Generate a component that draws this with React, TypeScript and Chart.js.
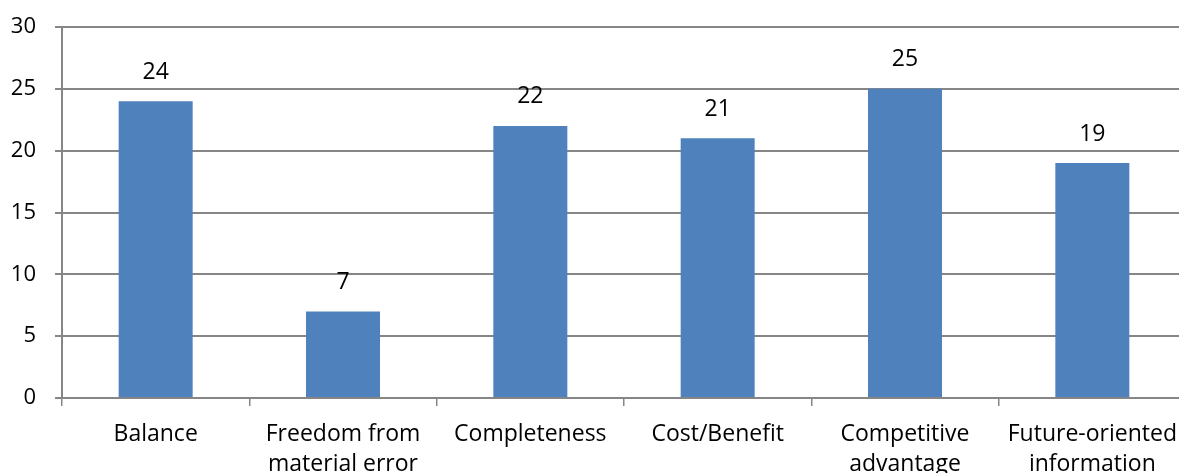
import React, { useEffect, useRef } from "react";
import { Chart, registerables } from "chart.js";

Chart.register(...registerables);

const categories: (string | string[])[] = [
  "Balance",
  ["Freedom from", "material error"],
  "Completeness",
  "Cost/Benefit",
  ["Competitive", "advantage"],
  ["Future-oriented", "information"],
];
const values: number[] = [24, 7, 22, 21, 25, 19];
const yTicks: number[] = [0, 5, 10, 15, 20, 25, 30];

const FONT = "'Open Sans', 'Noto Sans', sans-serif";

const dataLabels = {
  id: "dataLabels",
  afterDatasetsDraw(chart: any) {
    const ctx = chart.ctx;
    const meta = chart.getDatasetMeta(0);
    ctx.save();
    ctx.font = `23px ${FONT}`;
    ctx.fillStyle = "#000000";
    ctx.textAlign = "center";
    ctx.textBaseline = "middle";
    meta.data.forEach((bar: any, i: number) => {
      ctx.fillText(String(values[i]), bar.x, bar.y - 29);
    });
    ctx.restore();
  },
};

export default function App() {
  const ref = useRef<HTMLCanvasElement>(null);
  useEffect(() => {
    if (!ref.current) return;
    const chart = new Chart(ref.current, {
      type: "bar",
      data: {
        labels: categories,
        datasets: [
          {
            data: values,
            backgroundColor: "#4F81BD",
            borderWidth: 0,
            categoryPercentage: 1,
            barPercentage: 0.395,
          },
        ],
      },
      options: {
        responsive: false,
        animation: false,
        layout: { padding: { top: 27, right: 4, left: 0, bottom: 0 } },
        plugins: { legend: { display: false }, tooltip: { enabled: false } },
        scales: {
          x: {
            grid: {
              offset: true,
              drawOnChartArea: false,
              drawTicks: true,
              tickLength: 8,
              color: "#868686",
              lineWidth: 1.5,
            },
            border: { color: "#868686", width: 2 },
            ticks: {
              color: "#000000",
              font: { family: FONT, size: 23, lineHeight: 1.3 },
              padding: 14,
              maxRotation: 0,
              autoSkip: false,
            },
            afterFit: (s: any) => {
              s.height = 75;
              s.paddingLeft = 0;
              s.paddingRight = 0;
            },
          },
          y: {
            min: 0,
            max: 30,
            afterBuildTicks: (s: any) => {
              s.ticks = yTicks.map((v) => ({ value: v }));
            },
            grid: {
              color: "#868686",
              lineWidth: 2,
              tickLength: 7,
              drawTicks: true,
            },
            border: { color: "#868686", width: 2 },
            ticks: {
              color: "#000000",
              font: { family: FONT, size: 22 },
              padding: 19,
            },
            afterFit: (s: any) => {
              s.width = 62;
              s.paddingTop = 0;
              s.paddingBottom = 0;
            },
          },
        },
      },
      plugins: [dataLabels],
    });
    return () => chart.destroy();
  }, []);
  return (
    <div
      style={{
        position: "absolute",
        left: 0,
        top: 0,
        width: 1179,
        height: 473,
        overflow: "hidden",
        background: "#ffffff",
      }}
    >
      <canvas ref={ref} width={1190} height={473} style={{ width: 1190, height: 473 }} />
    </div>
  );
}
